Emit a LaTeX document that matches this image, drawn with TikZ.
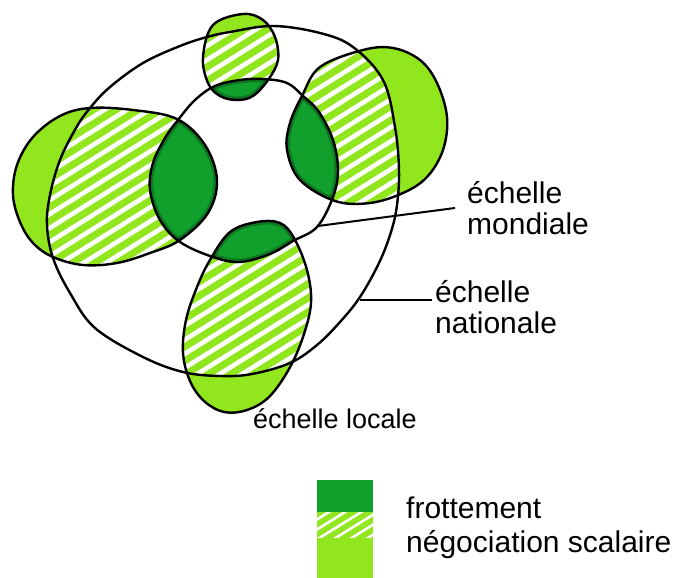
\documentclass[tikz,border=0pt]{standalone}
\usepackage{fontspec}
\setmainfont{Liberation Sans}
\definecolor{lgreen}{RGB}{145,230,30}
\definecolor{dgreen}{RGB}{18,160,45}
\def\pOuter{plot[smooth cycle, tension=0.6] coordinates {(230,32) (273,26) (320,33) (353,47) (383,80) (395,127) (399,170) (397,205) (391,232) (379,263) (360,297) (340,322) (317,345) (290,363) (252,374) (220,376) (183,372) (143,357) (95,328) (70,293) (53,258) (47,225) (50,195) (60,160) (76,128) (90,108) (110,87) (143,63) (180,46) (207,37)}}
\def\pInner{plot[smooth cycle, tension=0.6] coordinates {(240,80) (263,79) (287,83) (303,96) (319,112) (333,140) (338,170) (333,197) (317,227) (293,241) (270,254) (240,262) (213,257) (180,242) (160,220) (150,190) (153,163) (165,138) (178,120) (195,100) (215,86)}}
\def\pTop{plot[smooth cycle, tension=0.6] coordinates {(243,14) (263,20) (275,37) (278,60) (268,80) (253,96) (237,100) (220,96) (208,83) (203,57) (213,25)}}
\def\pLeft{plot[smooth cycle, tension=0.6] coordinates {(90,108) (133,110) (177,119) (205,145) (217,180) (208,213) (180,240) (150,253) (117,263) (83,265) (53,257) (33,243) (20,222) (13,195) (17,165) (33,137) (60,116)}}
\def\pRight{plot[smooth cycle, tension=0.6] coordinates {(320,67) (363,50) (393,48) (420,60) (437,83) (447,117) (443,150) (427,177) (403,193) (370,203) (335,201) (300,180) (287,150) (290,123) (302,96)}}
\def\pBottom{plot[smooth cycle, tension=0.6] coordinates {(257,222) (280,223) (294,238) (307,270) (311,303) (303,337) (289,369) (269,397) (247,410) (224,412) (204,401) (190,381) (183,353) (186,320) (197,287) (210,260) (230,232)}}
\begin{document}
\begin{tikzpicture}[x=1pt,y=-1pt,
  outline/.style={line width=2.4pt, line join=round},
  stripe/.style={lgreen, line width=7pt},
  lab/.style={inner ysep=0pt, align=left, text=black},
  swatch/.style={minimum width=56pt, inner sep=0pt, anchor=north west, draw=none}]
\useasboundingbox (0,0) rectangle (678,578);
\newcommand\hatchlines{\foreach \b in {0,14,...,1120} {\draw[stripe] (0,\b) -- (720,\b-449);}}
% local-scale ellipses: fills
\foreach \E in {\pTop,\pLeft,\pRight,\pBottom}{
  \fill[lgreen] \E;
  \begin{scope}
    \clip \E; \clip \pOuter;
    \fill[white] \E;
    \hatchlines
  \end{scope}
  \begin{scope}
    \clip \E; \clip \pInner;
    \fill[dgreen] \E;
    \draw[line width=7pt, black!55!dgreen, opacity=0.45] \E;
    \draw[line width=7pt, black!55!dgreen, opacity=0.45] \pInner;
  \end{scope}
}
% outlines
\draw[outline] \pOuter;
\draw[outline] \pInner;
\draw[outline] \pTop;
\draw[outline] \pLeft;
\draw[outline] \pRight;
\draw[outline] \pBottom;
% labels
\node[lab, inner xsep=12pt, anchor=west, font=\fontsize{30}{31}\selectfont] (mond) at (455,208) {échelle\\mondiale};
\node[lab, inner xsep=3pt, anchor=west, font=\fontsize{30}{31}\selectfont] (nat) at (432,307) {échelle\\nationale};
\node[lab, inner sep=0pt, anchor=base west, font=\fontsize{27}{27}\selectfont] (loc) at (253,428) {échelle locale};
\coordinate (cm) at (318,226);
\coordinate (cn) at (360,300);
\draw[line width=2pt] (cm) -- (mond.west);
\draw[line width=2pt] (cn) -- (cn -| nat.west);
% legend
\node[swatch, fill=dgreen, minimum height=32pt] (swF) at (317,480) {};
\node[swatch, fill=lgreen, minimum height=25pt] (swN) at (317,512) {};
\node[swatch, fill=lgreen, minimum height=41pt] (swL) at (317,537) {};
\begin{scope}
  \clip (swN.north west) rectangle (swN.south east);
  \foreach \b in {520,530,...,600} {\draw[white, line width=2.6pt] (300,\b) -- (400,\b-62);}
\end{scope}
\node[lab, inner xsep=0pt, anchor=west, font=\fontsize{30}{34}\selectfont] (leg) at (406,528) {frottement\\négociation scalaire};
\end{tikzpicture}
\end{document}
